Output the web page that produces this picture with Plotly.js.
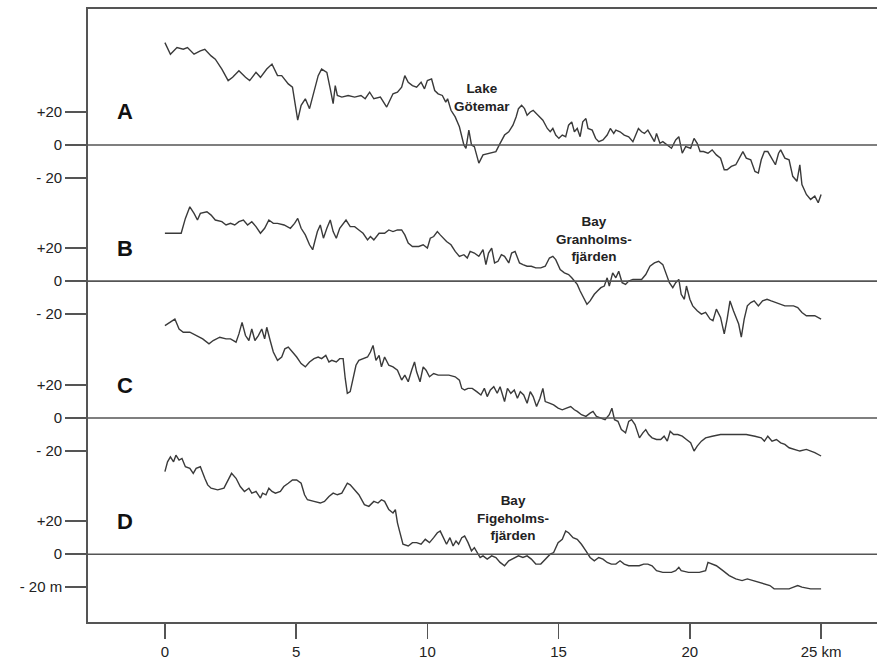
<!DOCTYPE html>
<html>
<head>
<meta charset="utf-8">
<script src="https://cdn.plot.ly/plotly-3.0.1.min.js"></script>
<style>
html,body{margin:0;padding:0;background:#fff;}
#chart{width:877px;height:664px;}
</style>
</head>
<body>
<div id="chart"></div>
<script>
// ---------- DATA (distance in km, elevation in m) ----------
const profileNames = ["A", "B", "C", "D"];

const kmA = [0.00,0.21,0.46,0.70,0.86,1.11,1.35,1.52,1.76,1.92,2.17,2.41,2.58,2.82,3.07,3.23,3.47,3.64,3.88,4.08,4.29,4.45,4.70,4.86,4.99,5.06,5.19,5.35,5.51,5.64,5.84,5.97,6.17,6.30,6.41,6.49,6.57,6.74,6.98,7.23,7.47,7.63,7.80,7.96,8.21,8.45,8.69,8.86,9.02,9.14,9.27,9.43,9.59,9.76,9.89,10.00,10.16,10.28,10.41,10.57,10.70,10.77,10.90,11.06,11.22,11.39,11.47,11.58,11.68,11.79,11.96,12.12,12.37,12.61,12.77,12.94,13.10,13.26,13.38,13.47,13.59,13.70,13.80,13.92,14.03,14.16,14.29,14.40,14.57,14.68,14.78,14.89,15.01,15.14,15.27,15.38,15.50,15.60,15.71,15.82,15.92,16.04,16.12,16.28,16.41,16.53,16.69,16.85,16.97,17.10,17.18,17.34,17.50,17.67,17.83,17.94,18.04,18.16,18.27,18.40,18.53,18.65,18.73,18.86,18.97,19.14,19.30,19.46,19.58,19.71,19.84,20.03,20.16,20.28,20.39,20.52,20.69,20.85,21.01,21.17,21.31,21.42,21.58,21.75,21.91,22.02,22.15,22.32,22.48,22.61,22.72,22.84,22.97,23.13,23.26,23.38,23.46,23.62,23.78,23.92,24.08,24.19,24.27,24.44,24.60,24.76,24.89,25.00];
const elevA = [62,55,59,58,59,55,57,58,54,52,46,39,41,45,41,39,44,41,46,49,42,42,37,35,22,15,24,28,22,30,42,46,44,34,25,36,30,29,30,29,30,28,32,28,29,23,31,32,35,42,38,36,35,38,34,39,40,33,31,30,26,28,21,17,11,0,-2,9,0,-1,-11,-6,-5,-4,1,6,8,12,17,22,24,22,18,20,21,19,17,15,10,8,10,6,4,6,5,12,14,8,10,5,14,16,10,9,4,2,3,6,10,7,9,8,6,5,2,6,10,8,7,9,5,2,7,1,2,0,-2,3,5,-5,-1,-2,4,1,-4,-4,-5,-3,-6,-8,-15,-15,-13,-12,-7,-4,-8,-9,-16,-17,-9,-4,-4,-8,-12,-5,-3,-8,-9,-19,-22,-12,-24,-30,-33,-31,-35,-30];

const kmB = [0.00,0.62,0.78,0.95,1.11,1.24,1.35,1.60,1.76,1.92,2.17,2.33,2.50,2.66,2.82,2.99,3.15,3.31,3.47,3.64,3.80,3.96,4.13,4.29,4.54,4.78,4.94,5.06,5.19,5.35,5.51,5.63,5.71,5.81,5.92,6.04,6.17,6.30,6.41,6.53,6.66,6.79,6.90,7.06,7.23,7.39,7.55,7.72,7.83,7.96,8.16,8.37,8.53,8.69,8.86,9.02,9.14,9.27,9.43,9.67,9.84,10.00,10.11,10.24,10.38,10.49,10.60,10.73,10.90,11.06,11.22,11.39,11.52,11.63,11.79,11.96,12.12,12.23,12.33,12.45,12.56,12.69,12.82,12.94,13.10,13.21,13.34,13.51,13.64,13.80,13.96,14.13,14.32,14.49,14.65,14.78,14.89,15.06,15.22,15.38,15.50,15.60,15.71,15.82,15.95,16.08,16.20,16.36,16.48,16.61,16.74,16.85,16.93,17.06,17.18,17.29,17.42,17.55,17.67,17.83,17.99,18.16,18.32,18.48,18.65,18.81,18.97,19.09,19.22,19.35,19.46,19.58,19.67,19.79,19.87,20.00,20.11,20.28,20.44,20.60,20.77,20.88,21.01,21.17,21.31,21.42,21.53,21.66,21.75,21.86,21.96,22.07,22.19,22.32,22.45,22.61,22.77,22.94,23.10,23.30,23.46,23.62,23.78,23.95,24.11,24.27,24.44,24.60,24.76,25.00];
const elevB = [29,29,38,45,41,37,41,42,40,37,36,34,35,34,36,37,34,36,33,29,32,37,35,35,34,32,35,38,32,28,22,19,24,30,34,26,32,37,30,26,32,35,37,33,33,31,29,25,27,25,29,29,31,30,31,31,28,23,21,21,22,20,26,27,30,28,26,24,22,18,15,16,14,18,17,15,19,10,17,20,11,12,16,15,11,17,18,11,10,9,9,8,8,9,14,15,13,7,5,4,2,0,-2,-6,-10,-14,-12,-8,-6,-4,-3,2,-3,5,2,6,-1,-2,0,1,1,1,4,9,11,12,10,4,-1,-4,-1,1,-8,-11,-3,-11,-15,-18,-20,-19,-23,-24,-17,-22,-32,-23,-12,-18,-22,-26,-34,-23,-15,-13,-12,-15,-12,-11,-12,-13,-14,-15,-15,-15,-16,-19,-21,-21,-21,-23];

const kmC = [0.00,0.21,0.38,0.54,0.70,0.95,1.19,1.44,1.68,1.84,2.09,2.33,2.50,2.71,2.82,2.94,3.07,3.20,3.31,3.43,3.56,3.69,3.80,3.88,4.01,4.13,4.29,4.45,4.57,4.70,4.86,5.02,5.19,5.35,5.51,5.68,5.84,5.97,6.13,6.25,6.36,6.53,6.66,6.79,6.87,6.95,7.06,7.15,7.28,7.39,7.55,7.72,7.83,7.93,8.04,8.16,8.25,8.37,8.53,8.69,8.86,9.02,9.14,9.27,9.40,9.51,9.59,9.72,9.84,9.95,10.08,10.24,10.41,10.57,10.82,11.06,11.22,11.31,11.42,11.55,11.71,11.88,12.04,12.17,12.28,12.40,12.53,12.66,12.77,12.94,13.05,13.18,13.31,13.43,13.54,13.67,13.80,13.92,14.03,14.16,14.29,14.40,14.49,14.65,14.81,14.98,15.14,15.30,15.46,15.60,15.71,15.87,16.04,16.20,16.31,16.44,16.61,16.77,16.93,17.03,17.13,17.26,17.39,17.55,17.67,17.78,17.91,18.08,18.21,18.32,18.43,18.56,18.73,18.89,19.02,19.14,19.25,19.38,19.54,19.71,19.87,20.03,20.16,20.28,20.44,20.60,20.85,21.17,21.50,21.83,22.15,22.48,22.72,22.84,22.97,23.13,23.30,23.46,23.62,23.78,23.95,24.19,24.44,24.60,24.76,25.00];
const elevC = [56,58,60,54,52,52,50,48,45,47,49,48,48,46,51,58,50,47,54,47,50,54,48,55,47,40,35,37,42,43,40,37,33,31,34,36,37,36,38,34,35,34,36,36,24,15,16,22,32,35,36,37,40,44,35,38,31,37,32,31,29,23,26,22,29,34,28,22,31,29,25,27,26,26,26,25,23,18,17,18,18,16,14,18,13,17,19,15,19,10,18,15,17,12,16,14,9,16,13,7,12,18,10,9,8,6,5,6,7,5,4,2,1,3,4,1,0,-1,2,6,-1,-2,-7,-9,-2,-1,-4,-12,-9,-7,-10,-12,-13,-13,-11,-14,-8,-10,-10,-11,-13,-15,-20,-17,-14,-12,-11,-10,-10,-10,-10,-11,-12,-14,-11,-14,-13,-15,-16,-18,-19,-20,-19,-20,-21,-23];

const kmD = [0.00,0.10,0.21,0.33,0.42,0.54,0.65,0.78,0.95,1.08,1.19,1.35,1.52,1.63,1.76,2.01,2.25,2.38,2.54,2.71,2.87,3.03,3.20,3.31,3.47,3.64,3.72,3.85,3.96,4.08,4.21,4.40,4.53,4.70,4.86,5.02,5.19,5.32,5.43,5.68,5.92,6.08,6.25,6.41,6.57,6.74,6.85,6.95,7.06,7.23,7.39,7.60,7.77,7.96,8.12,8.25,8.37,8.53,8.69,8.78,8.86,8.94,9.07,9.27,9.43,9.59,9.76,9.92,10.08,10.24,10.38,10.49,10.60,10.73,10.86,10.98,11.09,11.19,11.31,11.42,11.55,11.68,11.79,11.91,12.01,12.12,12.28,12.45,12.61,12.77,12.94,13.10,13.31,13.47,13.64,13.80,13.96,14.13,14.32,14.49,14.68,14.81,14.98,15.14,15.27,15.38,15.55,15.71,15.87,16.04,16.20,16.36,16.53,16.69,16.85,17.01,17.18,17.34,17.50,17.67,17.91,18.07,18.24,18.40,18.56,18.73,18.97,19.30,19.46,19.58,19.67,19.95,20.36,20.60,20.69,20.85,21.01,21.26,21.50,21.75,21.99,22.19,22.40,22.64,22.89,23.05,23.21,23.46,23.78,23.95,24.11,24.27,24.60,25.00];
const elevD = [50,56,59,56,60,57,58,53,52,49,52,53,46,42,40,39,40,44,49,46,41,38,40,37,38,34,37,36,40,38,37,38,41,43,45,45,43,36,33,32,31,32,35,37,36,37,40,43,42,39,36,30,29,32,31,33,32,27,25,27,19,14,6,5,7,7,6,9,7,10,13,14,10,6,10,5,8,6,10,11,7,2,4,1,-2,-1,-3,-1,-2,-5,-7,-4,-2,-1,-2,-1,-3,-6,-6,-3,0,1,7,9,14,13,10,9,6,2,-2,-4,-2,-3,-5,-6,-6,-4,-6,-7,-7,-7,-6,-6,-7,-10,-11,-11,-10,-8,-10,-11,-11,-10,-5,-6,-7,-10,-13,-15,-16,-15,-16,-17,-18,-19,-21,-21,-21,-20,-19,-20,-21,-21];

const xTickVals = [0, 5, 10, 15, 20, 25];
const xTickText = ["0", "5", "10", "15", "20", "25 km"];
const yTickMarks = [20, 0, -20];
const yTickTextStd = ["+20", "0", "- 20"];
const yTickTextLast = ["+20", "0", "- 20 m"];

const placeNames = ["Lake<br>Götemar", "Bay<br>Granholms-<br>fjärden", "Bay<br>Figeholms-<br>fjärden"];

// ---------- LAYOUT CONSTANTS ----------
const panelOffset = [0, -82.5, -165.5, -248];   // vertical stacking of the four profiles
const kms = [kmA, kmB, kmC, kmD];
const elevs = [elevA, elevB, elevC, elevD];

const lineCol = "#3a3a3a";
const frameCol = "#555555";
const font = "Liberation Sans, Arial, sans-serif";

const traces = kms.map((k, i) => ({
  x: k,
  y: elevs[i].map(v => v + panelOffset[i]),
  type: "scatter",
  mode: "lines",
  line: {color: lineCol, width: 1.4},
  hoverinfo: "skip",
  showlegend: false
}));

const tickvals = [], ticktext = [];
panelOffset.forEach((o, i) => {
  yTickMarks.forEach((t, j) => {
    tickvals.push(o + t);
    ticktext.push(i === panelOffset.length - 1 ? yTickTextLast[j] : yTickTextStd[j]);
  });
});

const shapes = panelOffset.map(o => ({
  type: "line", xref: "paper", yref: "y",
  x0: 0, x1: 1, y0: o, y1: o,
  line: {color: frameCol, width: 1.6}
}));

const annotations = profileNames.map((n, i) => ({
  x: -1.52, y: panelOffset[i] + 20, xref: "x", yref: "y",
  text: "<b>" + n + "</b>", showarrow: false,
  font: {family: font, size: 22, color: "#111"},
  xanchor: "center", yanchor: "middle"
}));
const placePos = [[12.08, 28.8], [16.35, -57.0], [13.26, -226.0]];
placeNames.forEach((t, i) => {
  annotations.push({
    x: placePos[i][0], y: placePos[i][1], xref: "x", yref: "y",
    text: "<b>" + t + "</b>", showarrow: false,
    font: {family: font, size: 13.5, color: "#222"},
    xanchor: "center", yanchor: "middle", align: "center"
  });
});

const layout = {
  width: 877, height: 664,
  margin: {l: 88, r: 0, t: 9, b: 42, pad: 0},
  paper_bgcolor: "#fff", plot_bgcolor: "#fff",
  showlegend: false,
  xaxis: {
    range: [-2.93, 27.13],
    tickvals: xTickVals, ticktext: xTickText,
    ticks: "outside", ticklen: 15, tickwidth: 1.6, tickcolor: frameCol,
    showline: true, linecolor: frameCol, linewidth: 1.8, mirror: true,
    showgrid: false, zeroline: false,
    tickfont: {family: font, size: 15, color: "#222"}
  },
  yaxis: {
    range: [-289.1, 82.4],
    tickvals: tickvals, ticktext: ticktext,
    ticks: "outside", ticklen: 21, tickwidth: 1.6, tickcolor: frameCol,
    showline: true, linecolor: frameCol, linewidth: 1.8,
    showgrid: false, zeroline: false,
    tickfont: {family: font, size: 15, color: "#222"}
  },
  shapes: shapes,
  annotations: annotations
};

Plotly.newPlot("chart", traces, layout, {staticPlot: true, displayModeBar: false});
</script>
</body>
</html>
